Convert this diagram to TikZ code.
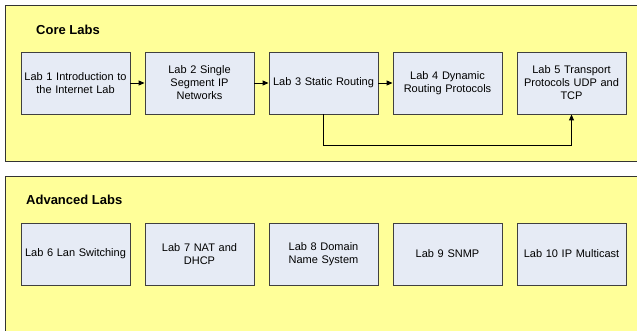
\documentclass[tikz,border=0pt]{standalone}
\usepackage{fontspec}
\setmainfont{Liberation Sans}
\usetikzlibrary{arrows.meta}
\definecolor{panelyellow}{HTML}{FFFF99}
\definecolor{boxfill}{HTML}{E6EBF5}
\definecolor{boxline}{HTML}{404040}
\tikzset{
  labbox/.style={draw=boxline, line width=0.9pt, fill=boxfill, minimum width=109pt, minimum height=62pt,
    text width=108pt, align=center, inner sep=0pt, font=\fontsize{11}{13}\selectfont},
  panel/.style={draw=black!80, line width=0.9pt, fill=panelyellow},
  paneltitle/.style={anchor=west, font=\fontsize{13}{15}\selectfont\bfseries, inner sep=0pt},
  flow/.style={-{Triangle[length=6pt,width=5pt]}, line width=0.9pt, black}
}
\begin{document}
\begin{tikzpicture}[x=1pt,y=-1pt]
\useasboundingbox (0,0) rectangle (637,331);
\clip (0,0) rectangle (637,331);
\fill[white] (0,0) rectangle (637,331);
\draw[panel] (5,5) rectangle (645,161);
\draw[panel] (5,176) rectangle (645,340);
\node[paneltitle] (core) at (36,30) {Core Labs};
\node[paneltitle] (adv) at (26,200) {Advanced Labs};
\node[labbox] (l1) at (75.5,83) {Lab 1 Introduction to\\the Internet Lab};
\node[labbox] (l2) at (199.5,83) {Lab 2 Single\\Segment IP\\Networks};
\node[labbox] (l3) at (323.5,83) {Lab 3 Static Routing};
\node[labbox] (l4) at (447.5,83) {Lab 4 Dynamic\\Routing Protocols};
\node[labbox] (l5) at (571.5,83) {Lab 5 Transport\\Protocols UDP and\\TCP};
\node[labbox] (l6) at (75.5,254) {Lab 6 Lan Switching};
\node[labbox] (l7) at (199.5,254) {Lab 7 NAT and\\DHCP};
\node[labbox] (l8) at (323.5,254) {Lab 8 Domain\\Name System};
\node[labbox] (l9) at (447.5,254) {Lab 9 SNMP};
\node[labbox] (l10) at (571.5,254) {Lab 10 IP Multicast};
\draw[flow] (l1) -- (l2);
\draw[flow] (l2) -- (l3);
\draw[flow] (l3) -- (l4);
\coordinate (ca) at (323.5,145);
\coordinate (cb) at (571.5,145);
\draw[flow] (l3.south) -- (ca) -- (cb) -- (l5.south);
\end{tikzpicture}
\end{document}
